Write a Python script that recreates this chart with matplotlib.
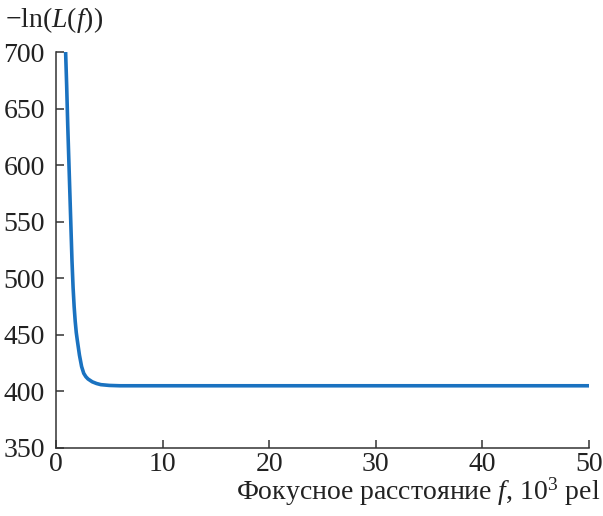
import matplotlib
matplotlib.use("Agg")
import matplotlib.pyplot as plt

plt.rcParams['font.family'] = ['Liberation Serif', 'DejaVu Serif']
plt.rcParams['mathtext.fontset'] = 'custom'
plt.rcParams['mathtext.rm'] = 'Liberation Serif'
plt.rcParams['mathtext.it'] = 'Liberation Serif:italic'

focal = [0.9, 1.0, 1.1, 1.2, 1.3, 1.4, 1.5, 1.6, 1.7, 1.8, 1.9, 2.0, 2.2, 2.4, 2.6, 2.8,
         3.0, 3.4, 3.8, 4.2, 5.0, 6.0, 10, 20, 30, 40, 50]
neg_log_l = [700, 670, 635, 605, 575, 545, 515, 492, 475, 462, 452, 445, 432, 422, 416, 413,
             411, 408.5, 407, 406, 405.3, 405, 405, 405, 405, 405, 405]
xticks = [0, 10, 20, 30, 40, 50]
yticks = [350, 400, 450, 500, 550, 600, 650, 700]

fig = plt.figure(figsize=(6.03, 5.16), dpi=100)
ax = fig.add_axes([0.0929, 0.1318, 0.8839, 0.7674])
ax.plot(focal, neg_log_l, color='#1a72c0', lw=2.6, solid_capstyle='butt')
ax.set_xlim(0, 50)
ax.set_ylim(350, 700)
ax.set_xticks(xticks)
ax.set_yticks(yticks)
for s in ['top', 'right']:
    ax.spines[s].set_visible(False)
for s in ['left', 'bottom']:
    ax.spines[s].set_color('#333333')
    ax.spines[s].set_linewidth(1.1)
ax.tick_params(direction='in', length=6, width=1.1, color='#333333',
               labelsize=20, labelcolor='#222222')
ax.tick_params(axis='y', pad=8)
ax.tick_params(axis='x', pad=3)

fig.text(0.008, 0.9477, r'$-\mathrm{ln}(L(f))$', fontsize=20, color='#222222', ha='left', va='baseline')
fig.text(0.996, 0.031, r'Фокусное расстояние $f$, 10$^3$ pel', fontsize=20, color='#222222',
         ha='right', va='baseline')

fig.savefig('out.png', dpi=100)
